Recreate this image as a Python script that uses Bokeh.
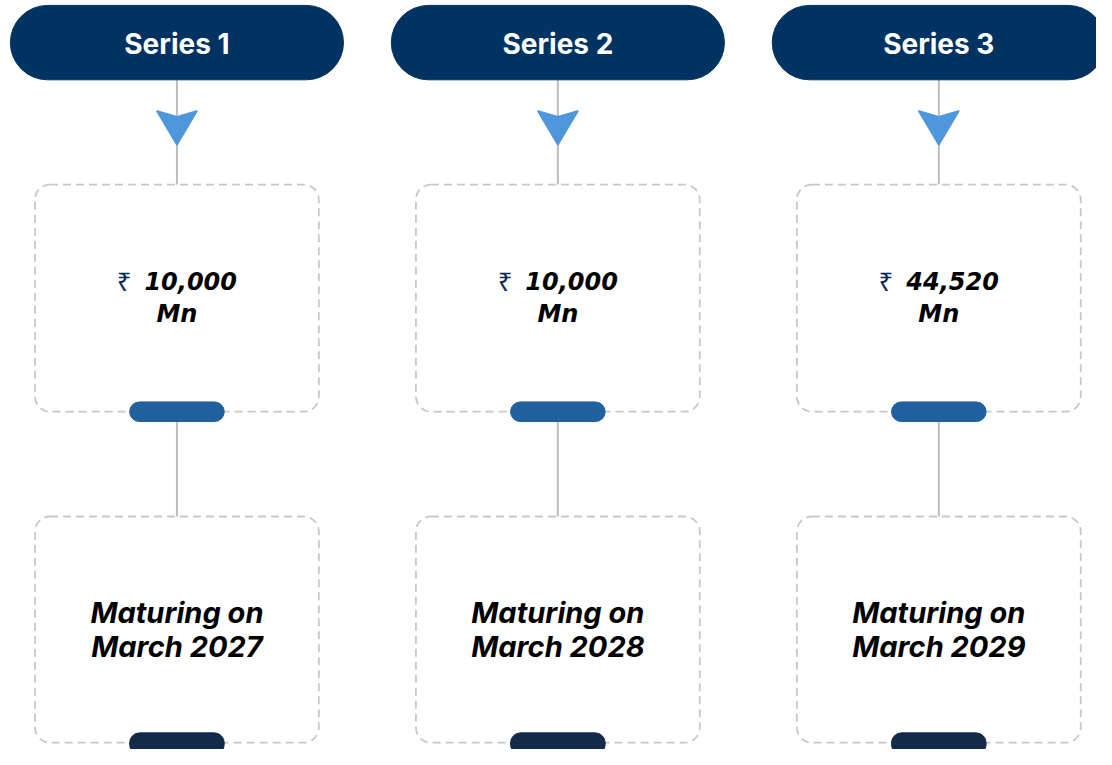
from bokeh.plotting import figure
from bokeh.models import Range1d
from bokeh.core.properties import value
from bokeh.embed import file_html
from bokeh.resources import INLINE

# ---- data ----
series = ["Series 1", "Series 2", "Series 3"]
amounts = ["10,000", "10,000", "44,520"]
unit = ["Mn", "Mn", "Mn"]
maturity_line1 = ["Maturing on", "Maturing on", "Maturing on"]
maturity_line2 = ["March 2027", "March 2028", "March 2029"]

# ---- layout ----
W, H = 1112, 765
centers = [179 + i * 386.5 for i in range(len(series))]

p = figure(width=1096, height=749, x_range=Range1d(0, W), y_range=Range1d(H, 0),
           output_backend="svg", toolbar_location=None, min_border=0)
p.xaxis.visible = False
p.yaxis.visible = False
p.xgrid.visible = False
p.ygrid.visible = False
p.outline_line_color = None
p.background_fill_color = "white"
p.border_fill_color = "white"

NAVY = "#013362"
ARROW = "#4F97DC"
MIDPILL = "#21609E"
DARKPILL = "#132A48"
GREY = "#BDBDBD"
DASH = "#C8C8C8"

# connector lines
p.segment(x0=centers, y0=[81] * 3, x1=centers, y1=[188] * 3, line_color=GREY, line_width=2)
p.segment(x0=centers, y0=[430] * 3, x1=centers, y1=[527] * 3, line_color=GREY, line_width=2)

# header pills
p.quad(left=[c - 169 for c in centers], right=[c + 169 for c in centers],
       top=[5] * 3, bottom=[81] * 3, fill_color=NAVY, line_color=NAVY,
       border_radius=38)
p.text(x=centers, y=[44] * 3, text=series, text_color="white",
       text_font=value("Inter"), text_font_style="bold", text_font_size="28px",
       text_align="center", text_baseline="middle")

# arrows
xs = [[c - 20, c, c + 20, c] for c in centers]
ys = [[113, 119, 113, 147] for c in centers]
p.patches(xs=xs, ys=ys, fill_color=ARROW, line_color=ARROW, line_width=2, line_join="round")

# dashed boxes
p.quad(left=[c - 144 for c in centers], right=[c + 144 for c in centers],
       top=[188] * 3, bottom=[420] * 3, fill_color=None, line_color=DASH,
       line_width=1.8, line_dash="8 5", border_radius=15)
p.quad(left=[c - 144 for c in centers], right=[c + 144 for c in centers],
       top=[527] * 3, bottom=[758] * 3, fill_color=None, line_color=DASH,
       line_width=1.8, line_dash="8 5", border_radius=15)

# small pills
p.quad(left=[c - 48 for c in centers], right=[c + 48 for c in centers],
       top=[410] * 3, bottom=[430] * 3, fill_color=MIDPILL, line_color=MIDPILL,
       border_radius=10)
p.quad(left=[c - 48 for c in centers], right=[c + 48 for c in centers],
       top=[748] * 3, bottom=[770] * 3, fill_color=DARKPILL, line_color=DARKPILL,
       border_radius=10)

# amount text
p.text(x=[c - 46 for c in centers], y=[286] * 3, text=["₹"] * 3, text_color="#0B2A5B",
       text_font=value("Noto Sans"), text_font_size="26px",
       text_align="right", text_baseline="middle")
p.text(x=[c - 33 for c in centers], y=[286] * 3, text=amounts, text_color="black",
       text_font=value("DejaVu Sans"), text_font_style="bold italic", text_font_size="24px",
       text_align="left", text_baseline="middle")
p.text(x=centers, y=[320] * 3, text=unit, text_color="black",
       text_font=value("DejaVu Sans"), text_font_style="bold italic", text_font_size="24px",
       text_align="center", text_baseline="middle")

# maturity text
p.text(x=centers, y=[625] * 3, text=maturity_line1, text_color="black",
       text_font=value("Inter"), text_font_style="bold italic", text_font_size="29px",
       text_align="center", text_baseline="middle")
p.text(x=centers, y=[660] * 3, text=maturity_line2, text_color="black",
       text_font=value("Inter"), text_font_style="bold italic", text_font_size="29px",
       text_align="center", text_baseline="middle")

open("out.html", "w").write(file_html(p, INLINE))
